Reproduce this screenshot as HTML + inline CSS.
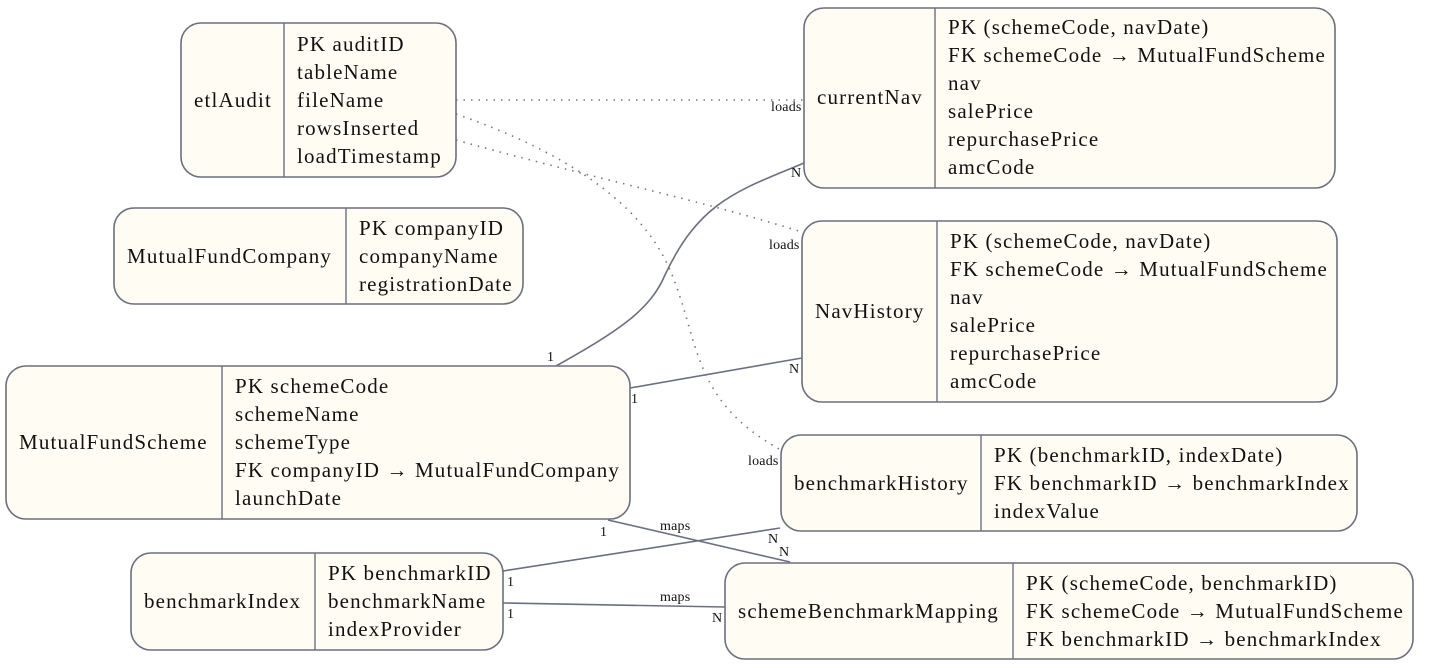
<!DOCTYPE html>
<html><head><meta charset="utf-8"><style>
html,body{margin:0;padding:0;background:#fff;}
svg{display:block;font-family:"Liberation Serif",serif;}
.b{fill:#fffcf3;stroke:#6b7080;stroke-width:1.6;}
.d{stroke:#6b7080;stroke-width:1.4;}
.t{font-size:21px;letter-spacing:1.15px;fill:#111;dominant-baseline:central;}
.l{font-size:14px;letter-spacing:0.2px;fill:#111;}
.e{fill:none;stroke:#6b7080;stroke-width:1.6;}
.dot{fill:none;stroke:#777;stroke-width:1.6;stroke-dasharray:1.5 6;}
</style></head><body>
<svg width="1436" height="668" viewBox="0 0 1436 668">
<path class="dot" d="M456,100 L804,100"/>
<path class="dot" d="M456,140 C600,180 700,200 802,232"/>
<path class="dot" d="M456,114 C560,150 640,200 670,270 C700,340 690,400 781,450"/>
<path class="e" d="M556,366 C620,330 650,310 665,275 C700,200 740,190 804,163"/>
<path class="e" d="M630,388 L802,358"/>
<path class="e" d="M608,520 L790,562"/>
<path class="e" d="M503,571 L780,528"/>
<path class="e" d="M503,603 L725,607"/>
<text class="l" x="771" y="111">loads</text>
<text class="l" x="769" y="249">loads</text>
<text class="l" x="748" y="465">loads</text>
<text class="l" x="547" y="361">1</text>
<text class="l" x="791" y="177">N</text>
<text class="l" x="631" y="403">1</text>
<text class="l" x="789" y="373">N</text>
<text class="l" x="600" y="536">1</text>
<text class="l" x="660" y="530">maps</text>
<text class="l" x="768" y="543">N</text>
<text class="l" x="779" y="556">N</text>
<text class="l" x="507" y="586">1</text>
<text class="l" x="507" y="618">1</text>
<text class="l" x="660" y="601">maps</text>
<text class="l" x="712" y="622">N</text>
<rect class="b" x="181" y="23" width="275" height="154" rx="20"/>
<line class="d" x1="284" y1="23" x2="284" y2="177"/>
<text class="t" x="194" y="100">etlAudit</text>
<text class="t" x="297" y="44">PK auditID</text>
<text class="t" x="297" y="72">tableName</text>
<text class="t" x="297" y="100">fileName</text>
<text class="t" x="297" y="128">rowsInserted</text>
<text class="t" x="297" y="156">loadTimestamp</text>
<rect class="b" x="114" y="208" width="409" height="96" rx="20"/>
<line class="d" x1="346" y1="208" x2="346" y2="304"/>
<text class="t" x="127" y="256">MutualFundCompany</text>
<text class="t" x="359" y="228">PK companyID</text>
<text class="t" x="359" y="256">companyName</text>
<text class="t" x="359" y="284">registrationDate</text>
<rect class="b" x="6" y="366" width="624" height="153" rx="20"/>
<line class="d" x1="222" y1="366" x2="222" y2="519"/>
<text class="t" x="19" y="442">MutualFundScheme</text>
<text class="t" x="235" y="386">PK schemeCode</text>
<text class="t" x="235" y="414">schemeName</text>
<text class="t" x="235" y="442">schemeType</text>
<text class="t" x="235" y="470">FK companyID → MutualFundCompany</text>
<text class="t" x="235" y="498">launchDate</text>
<rect class="b" x="131" y="553" width="372" height="97" rx="20"/>
<line class="d" x1="315" y1="553" x2="315" y2="650"/>
<text class="t" x="144" y="601">benchmarkIndex</text>
<text class="t" x="328" y="573">PK benchmarkID</text>
<text class="t" x="328" y="601">benchmarkName</text>
<text class="t" x="328" y="629">indexProvider</text>
<rect class="b" x="804" y="8" width="531" height="180" rx="20"/>
<line class="d" x1="935" y1="8" x2="935" y2="188"/>
<text class="t" x="817" y="97">currentNav</text>
<text class="t" x="948" y="27">PK (schemeCode, navDate)</text>
<text class="t" x="948" y="55">FK schemeCode → MutualFundScheme</text>
<text class="t" x="948" y="83">nav</text>
<text class="t" x="948" y="111">salePrice</text>
<text class="t" x="948" y="139">repurchasePrice</text>
<text class="t" x="948" y="167">amcCode</text>
<rect class="b" x="802" y="221" width="535" height="181" rx="20"/>
<line class="d" x1="937" y1="221" x2="937" y2="402"/>
<text class="t" x="815" y="311">NavHistory</text>
<text class="t" x="950" y="241">PK (schemeCode, navDate)</text>
<text class="t" x="950" y="269">FK schemeCode → MutualFundScheme</text>
<text class="t" x="950" y="297">nav</text>
<text class="t" x="950" y="325">salePrice</text>
<text class="t" x="950" y="353">repurchasePrice</text>
<text class="t" x="950" y="381">amcCode</text>
<rect class="b" x="781" y="435" width="576" height="96" rx="20"/>
<line class="d" x1="981" y1="435" x2="981" y2="531"/>
<text class="t" x="794" y="483">benchmarkHistory</text>
<text class="t" x="994" y="455">PK (benchmarkID, indexDate)</text>
<text class="t" x="994" y="483">FK benchmarkID → benchmarkIndex</text>
<text class="t" x="994" y="511">indexValue</text>
<rect class="b" x="725" y="563" width="688" height="96" rx="20"/>
<line class="d" x1="1013" y1="563" x2="1013" y2="659"/>
<text class="t" x="738" y="611">schemeBenchmarkMapping</text>
<text class="t" x="1026" y="583">PK (schemeCode, benchmarkID)</text>
<text class="t" x="1026" y="611">FK schemeCode → MutualFundScheme</text>
<text class="t" x="1026" y="639">FK benchmarkID → benchmarkIndex</text>
</svg>
</body></html>
